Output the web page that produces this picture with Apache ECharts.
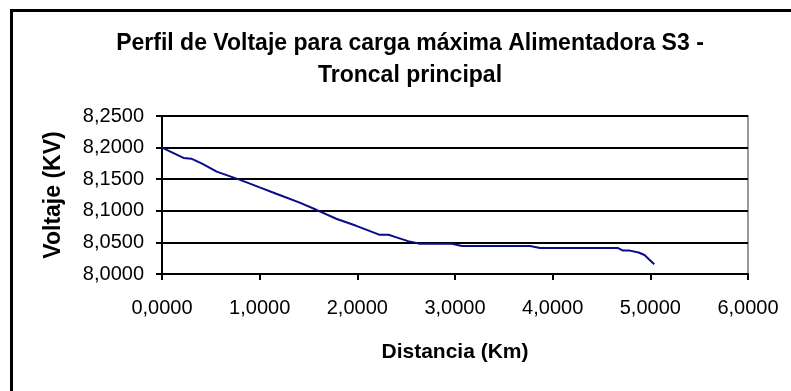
<!DOCTYPE html>
<html>
<head>
<meta charset="utf-8">
<script src="https://cdn.jsdelivr.net/npm/echarts@6/dist/echarts.min.js"></script>
<style>
  html, body { margin: 0; padding: 0; background: #fff; }
  #chart { width: 791px; height: 391px; }
</style>
</head>
<body>
<div id="chart"></div>
<script>
// Distance along the main trunk (km)
var distancia = [0, 0.22, 0.30, 0.41, 0.49, 0.56, 0.80, 1.00, 1.17, 1.41, 1.58, 1.79, 1.96, 2.01,
  2.23, 2.32, 2.40, 2.52, 2.64, 2.97, 3.07, 3.77, 3.87, 4.67, 4.72, 4.79, 4.88, 4.94, 4.98, 5.04];
// Voltage at each point (kV)
var voltaje = [8.2000, 8.1837, 8.1825, 8.1746, 8.1680, 8.1620, 8.1490, 8.1370, 8.1270, 8.1130, 8.1016, 8.0870, 8.0780, 8.0750,
  8.0620, 8.0620, 8.0580, 8.0520, 8.0480, 8.0480, 8.0444, 8.0444, 8.0410, 8.0410, 8.0370, 8.0370, 8.0340, 8.0300, 8.0240, 8.0154];

var titulo = 'Perfil de Voltaje para carga máxima Alimentadora S3 -\nTroncal principal';
var tituloX = 'Distancia (Km)';
var tituloY = 'Voltaje (KV)';

function coma4(v) { return v.toFixed(4).replace('.', ','); }

var puntos = distancia.map(function (d, i) { return [d, voltaje[i]]; });

var chart = echarts.init(document.getElementById('chart'), null, { renderer: 'canvas' });
var fuente = '"Liberation Sans", Arial, sans-serif';
chart.setOption({
  animation: false,
  backgroundColor: '#ffffff',
  textStyle: { fontFamily: fuente },
  title: {
    text: titulo,
    left: 405, top: 23, textAlign: 'center',
    textStyle: { fontFamily: fuente, fontSize: 23, fontWeight: 'bold', color: '#000', lineHeight: 32 }
  },
  graphic: [{
    type: 'rect', z: 100,
    shape: { x: 11.5, y: 10.5, width: 800, height: 400 },
    style: { fill: 'none', stroke: '#000', lineWidth: 3 }
  }],
  grid: {
    left: 162, right: 43, top: 116, bottom: 117,
    show: true, borderColor: '#999', borderWidth: 2, backgroundColor: '#fff'
  },
  xAxis: {
    type: 'value', min: 0, max: 6, interval: 1,
    name: tituloX, nameLocation: 'middle', nameGap: 68,
    nameTextStyle: { fontFamily: fuente, fontSize: 21, fontWeight: 'bold', color: '#000' },
    axisLine: { show: true, onZero: false, lineStyle: { color: '#000', width: 2 } },
    axisTick: { show: true, length: 6, lineStyle: { color: '#000', width: 2 } },
    axisLabel: { formatter: coma4, fontFamily: fuente, fontSize: 20, color: '#000', margin: 24 },
    splitLine: { show: false }
  },
  yAxis: {
    type: 'value', min: 8.0, max: 8.25, interval: 0.05,
    name: tituloY, nameLocation: 'middle', nameGap: 97, nameRotate: 90,
    nameTextStyle: { fontFamily: fuente, fontSize: 23, fontWeight: 'bold', color: '#000' },
    axisLine: { show: true, lineStyle: { color: '#000', width: 2 } },
    axisTick: { show: true, length: 6, lineStyle: { color: '#000', width: 2 } },
    axisLabel: { formatter: coma4, fontFamily: fuente, fontSize: 20, color: '#000', margin: 18 },
    splitLine: { show: true, lineStyle: { color: '#000', width: 2 } }
  },
  series: [{
    type: 'line',
    data: puntos,
    showSymbol: false,
    lineStyle: { color: '#0a0a8a', width: 2 },
    z: 5
  }]
});
</script>
</body>
</html>
